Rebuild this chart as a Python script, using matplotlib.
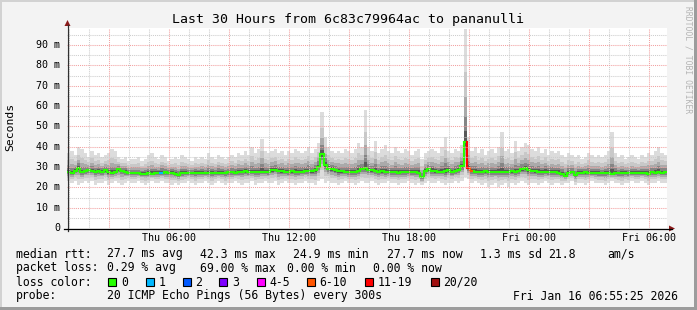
import numpy as np
import matplotlib
matplotlib.use('Agg')
import matplotlib.pyplot as plt
from matplotlib.collections import LineCollection
from matplotlib.patches import Rectangle, Polygon
from matplotlib.lines import Line2D

W, H = 697, 310
MONO = 'DejaVu Sans Mono'

# ---------------- data ----------------
start_hour = 55/60 + 25/3600      # Thu 00:55:25 (hours since Thu 00:00)
step_h = 10/60                    # 10 minute steps

median_ms = [
    27.4, 27.2, 28.0, 29.3, 27.5, 27.8, 28.6, 28.2, 27.5, 27.9,
    27.6, 28.3, 27.4, 27.2, 27.5, 28.9, 28.1, 27.6, 27.2, 27.0,
    27.0, 26.9, 26.8, 26.8, 26.9, 26.8, 27.0, 27.2, 27.3, 27.4,
    27.1, 27.3, 26.6, 26.0, 26.9, 27.2, 27.0, 27.1, 27.0, 27.2,
    27.1, 27.0, 27.2, 27.1, 27.0, 27.3, 27.2, 27.0, 27.5, 27.4,
    27.3, 27.6, 27.5, 27.8, 27.6, 27.4, 27.6, 27.5, 27.7, 27.6,
    27.6, 28.4, 28.6, 28.2, 27.8, 27.7, 27.6, 27.8, 27.7, 27.6,
    27.7, 27.9, 28.0, 27.8, 28.3, 30.0, 36.2, 31.0, 29.2, 28.9,
    28.3, 27.9, 27.8, 27.6, 27.5, 27.5, 27.6, 28.0, 28.9, 29.4,
    28.7, 28.3, 27.9, 27.6, 27.8, 27.5, 27.6, 27.4, 27.5, 27.3,
    27.4, 27.5, 27.4, 27.6, 27.5, 27.3, 24.9, 27.9, 28.8, 28.2,
    27.8, 27.6, 27.7, 27.8, 28.4, 27.6, 27.9, 28.6, 30.5, 42.3,
    29.5, 28.0, 27.7, 27.5, 27.6, 27.8, 27.7, 27.5, 27.6, 27.7,
    27.5, 27.4, 27.6, 27.8, 27.7, 28.2, 28.8, 29.3, 28.5, 28.1,
    27.8, 27.6, 27.5, 27.7, 27.6, 27.5, 27.4, 27.3, 26.8, 25.6,
    27.2, 27.4, 25.9, 27.2, 27.3, 27.4, 27.2, 27.0, 27.1, 26.9,
    26.9, 27.0, 27.1, 26.8, 27.0, 26.9, 27.1, 27.2, 26.9, 27.0,
    27.0, 27.2, 27.1, 27.3, 26.8, 27.4, 27.3, 27.6, 27.3, 27.4,
]

max_ms = [
    37, 38, 36, 40, 39, 37, 35, 38, 36, 37,
    35, 36, 37, 39, 38, 35, 34, 35, 33, 34,
    34, 35, 33, 34, 36, 37, 35, 34, 36, 35,
    33, 34, 35, 34, 36, 35, 34, 33, 35, 34,
    35, 34, 37, 35, 34, 36, 35, 34, 35, 36,
    35, 37, 36, 38, 36, 40, 37, 39, 44, 38,
    37, 38, 39, 37, 38, 36, 38, 37, 39, 38,
    37, 38, 40, 37, 39, 42, 57, 45, 40, 38,
    37, 38, 37, 39, 38, 37, 39, 42, 40, 58,
    40, 38, 43, 37, 39, 41, 38, 37, 40, 38,
    37, 39, 38, 36, 38, 39, 34, 37, 38, 39,
    38, 37, 40, 45, 38, 37, 39, 38, 41, 98,
    45, 38, 40, 37, 39, 36, 38, 39, 37, 40,
    47, 38, 39, 37, 43, 38, 40, 42, 41, 39,
    38, 40, 37, 39, 36, 38, 37, 38, 36, 35,
    37, 36, 35, 36, 34, 35, 37, 36, 35, 36,
    35, 36, 38, 47, 37, 35, 36, 34, 35, 36,
    35, 34, 36, 35, 37, 36, 38, 40, 37, 36,
]

min_ms = [
    23, 22, 23, 21, 22, 23, 22, 23, 21, 22,
    22, 23, 21, 22, 23, 22, 21, 22, 23, 22,
    22, 23, 22, 21, 22, 23, 22, 22, 23, 22,
    22, 21, 22, 21, 22, 22, 23, 22, 21, 22,
    22, 23, 22, 21, 22, 23, 22, 21, 22, 22,
    23, 22, 21, 22, 22, 23, 21, 22, 22, 23,
    22, 22, 23, 21, 22, 23, 22, 22, 21, 22,
    22, 23, 22, 22, 21, 23, 24, 22, 23, 22,
    22, 21, 22, 23, 22, 22, 21, 22, 23, 22,
    22, 23, 22, 21, 22, 22, 23, 22, 22, 21,
    22, 22, 23, 22, 21, 22, 21, 22, 23, 22,
    22, 23, 22, 21, 22, 22, 23, 22, 23, 25,
    24, 22, 23, 22, 21, 22, 20, 21, 22, 20,
    21, 22, 20, 22, 21, 22, 23, 22, 21, 22,
    22, 21, 22, 23, 22, 21, 22, 22, 21, 22,
    22, 23, 21, 22, 22, 21, 22, 23, 22, 22,
    22, 21, 22, 23, 22, 22, 21, 22, 22, 23,
    22, 22, 23, 22, 21, 22, 22, 23, 22, 22,
]

loss_steps = [28, 120, 121]       # steps with packet loss
loss_pct = [5, 69, 40]            # loss in percent at those steps

xtick_hours = [6, 12, 18, 24, 30]
xtick_labels = ['Thu 06:00', 'Thu 12:00', 'Thu 18:00', 'Fri 00:00', 'Fri 06:00']
ytick_vals = [0, 10, 20, 30, 40, 50, 60, 70, 80, 90]
ytick_labels = ['0', '10 m', '20 m', '30 m', '40 m', '50 m', '60 m', '70 m', '80 m', '90 m']

loss_names = ['0', '1', '2', '3', '4-5', '6-10', '11-19', '20/20']
loss_colors = ['#26ff00', '#00b8ff', '#0059ff', '#7e00ff', '#ff00ff', '#ff5500', '#ff0000', '#a01010']
loss_upper = [0, 1, 2, 3, 5, 10, 19, 20]

# ---------------- figure ----------------
fig = plt.figure(figsize=(W/100, H/100), dpi=100, facecolor='#f3f3f3')

def fx(x):
    return x / W

def fy(y):
    return 1 - y / H

# frame (3D border)
fig.patches.append(Rectangle((0, fy(2)), 1, 2/H, transform=fig.transFigure, color='#d2d2d2', lw=0))
fig.patches.append(Rectangle((0, 0), 2/W, 1, transform=fig.transFigure, color='#d2d2d2', lw=0))
fig.patches.append(Rectangle((0, 0), 1, 3/H, transform=fig.transFigure, color='#9c9c9c', lw=0))
fig.patches.append(Rectangle((fx(694), 0), 3/W, 1, transform=fig.transFigure, color='#9c9c9c', lw=0))

X0, Y0, PW, PH = 67, 228, 600, 200
YMAX = 98.4
ax = fig.add_axes([fx(X0), fy(Y0), PW/W, PH/H])
ax.set_facecolor('white')
for s in ax.spines.values():
    s.set_visible(False)
ax.set_xlim(start_hour, start_hour + 30)
ax.set_ylim(0, YMAX)
ax.set_xticks([]); ax.set_yticks([])

n = len(median_ms)
t = start_hour + np.arange(n + 1) * step_h
med = np.array(median_ms, float)
hi = np.array(max_ms, float)
lo = np.array(min_ms, float)

fracs = [1.0, 0.62, 0.4, 0.23, 0.1]
smoke = ['#dcdcdc', '#c8c8c8', '#aaaaaa', '#858585', '#585858']
for f, c in zip(fracs, smoke):
    up = med + (hi - med) * f
    dn = med - (med - lo) * f
    ax.fill_between(t, np.append(dn, dn[-1]), np.append(up, up[-1]), step='post',
                    color=c, lw=0, zorder=2)

# loss colour per step
loss_count = np.zeros(n)
for i, p in zip(loss_steps, loss_pct):
    loss_count[i] = round(p / 100 * 20)

def lcolor(cnt):
    for up_, c in zip(loss_upper, loss_colors):
        if cnt <= up_:
            return c
    return loss_colors[-1]

segs, cols = [], []
for i in range(n):
    c = lcolor(loss_count[i])
    segs.append([(t[i], med[i]), (t[i + 1], med[i])])
    cols.append(c)
    if i + 1 < n:
        segs.append([(t[i + 1], med[i]), (t[i + 1], med[i + 1])])
        cols.append(lcolor(loss_count[i + 1]))
ax.add_collection(LineCollection(segs, colors=cols, linewidths=1.5, capstyle='projecting', zorder=4))

# grid (drawn on top, dotted)
dot = (0, (1, 1))
h = int(np.ceil(start_hour))
while h < start_hour + 30:
    col = '#f2a0a0' if h % 3 == 0 else '#cdcdcd'
    ax.axvline(h, color=col, lw=0.75, ls=dot, zorder=5)
    h += 1
for v in np.arange(5, YMAX, 5):
    col = '#f2a0a0' if v % 10 == 0 else '#cdcdcd'
    ax.axhline(v, color=col, lw=0.75, ls=dot, zorder=5)

# axes lines and arrows
fig.lines.append(Line2D([fx(X0 + 0.5), fx(X0 + 0.5)], [fy(Y0 + 3), fy(25)], transform=fig.transFigure,
                        color='#303030', lw=0.9))
fig.lines.append(Line2D([fx(X0 - 3), fx(X0 + PW + 5)], [fy(Y0 + 0.5), fy(Y0 + 0.5)], transform=fig.transFigure,
                        color='black', lw=0.9))
fig.patches.append(Polygon([(fx(64.5), fy(26)), (fx(70.5), fy(26)), (fx(67.5), fy(20))],
                           closed=True, transform=fig.transFigure, color='#8b1a1a', lw=0))
fig.patches.append(Polygon([(fx(669), fy(225.5)), (fx(669), fy(231.5)), (fx(675), fy(228.5))],
                           closed=True, transform=fig.transFigure, color='#8b1a1a', lw=0))

# tick labels
for hr, lab in zip(xtick_hours, xtick_labels):
    px = X0 + (hr - start_hour) * PW / 30
    fig.text(fx(px), fy(238), lab, ha='center', va='center', family=MONO, fontsize=7.2)
for v, lab in zip(ytick_vals, ytick_labels):
    py = Y0 - v * PH / YMAX
    fig.text(fx(60), fy(py), lab, ha='right', va='center', family=MONO, fontsize=7.2)

fig.text(fx(347.5), fy(19), 'Last 30 Hours from 6c83c79964ac to pananulli', ha='center', va='center',
         family=MONO, fontsize=9.5)
fig.text(fx(10), fy(127), 'Seconds', ha='center', va='center', rotation=90, family=MONO, fontsize=8.2)
fig.text(fx(688), fy(60), 'RRDTOOL / TOBI OETIKER', ha='center', va='center', rotation=-90,
         family=MONO, fontsize=5.8, color='#b4b4b4')

# legend rows
FS = 8.3
rows = [
    (254, [(16, 'median rtt:'), (107, '27.7 ms avg'), (200, '42.3 ms max'), (293, '24.9 ms min'),
           (387, '27.7 ms now'), (480, '1.3 ms sd'), (548, '21.8'), (607, 'am/s')]),
    (268, [(16, 'packet loss:'), (107, '0.29 % avg'), (200, '69.00 % max'), (287, '0.00 % min'),
           (373, '0.00 % now')]),
    (282, [(16, 'loss color:')]),
    (296, [(16, 'probe:'), (107, '20 ICMP Echo Pings (56 Bytes) every 300s'), (513, 'Fri Jan 16 06:55:25 2026')]),
]
for y, items in rows:
    for x, s in items:
        fig.text(fx(x), fy(y), s, ha='left', va='center', family=MONO, fontsize=FS)

box_x = [108, 145.5, 182.5, 219, 256.5, 306.5, 365, 430.5]
for bx, name, c in zip(box_x, loss_names, loss_colors):
    fig.patches.append(Rectangle((fx(bx), fy(286)), 8/W, 8/H, transform=fig.transFigure,
                                 facecolor=c, edgecolor='black', lw=0.8))
    fig.text(fx(bx + 13), fy(282), name, ha='left', va='center', family=MONO, fontsize=FS)

fig.savefig('out.png', dpi=100, facecolor=fig.get_facecolor())
